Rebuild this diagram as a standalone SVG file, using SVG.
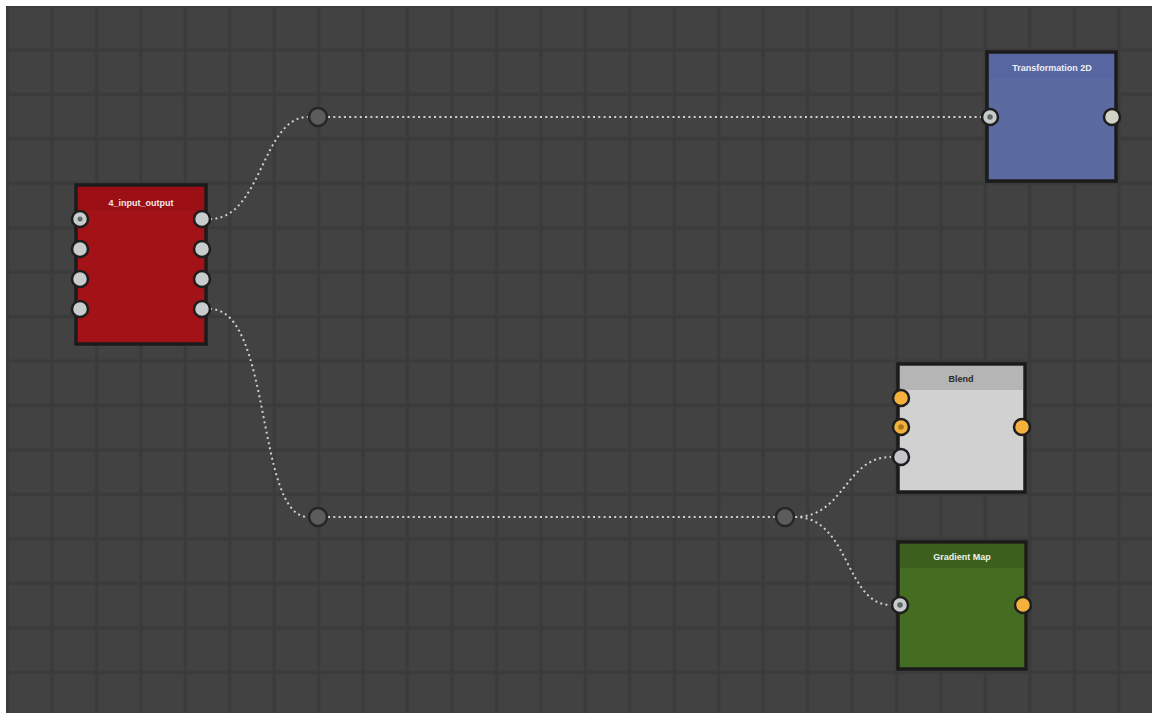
<svg xmlns="http://www.w3.org/2000/svg" width="1152" height="713" viewBox="0 0 1152 713">
<defs>
<pattern id="grid" patternUnits="userSpaceOnUse" x="29.8" y="27.8" width="44.45" height="44.45">
<rect width="44.45" height="44.45" fill="#424242"/>
<rect x="20.2" y="0" width="4" height="44.45" fill="#3d3d3d"/>
<rect x="0" y="20.2" width="44.45" height="4" fill="#3d3d3d"/>
<rect x="21.2" y="0" width="2" height="44.45" fill="#3a3a3a"/>
<rect x="0" y="21.2" width="44.45" height="2" fill="#3a3a3a"/>
</pattern>
<style>
.frame{stroke:#1b1b1b;stroke-width:3.5}
.title{font-family:"Liberation Sans",Arial,sans-serif;font-size:9px;font-weight:bold;text-anchor:middle}
.port{stroke:#1e1e1e;stroke-width:2.5}
.grey{fill:#c9cccc}
.orange{fill:#f4b23c}
.dot{fill:#5e6a66}
.odot{fill:#a8761c}
.wire{fill:none;stroke:#cfcfcf;stroke-width:2;stroke-dasharray:2 3.3;stroke-linecap:butt}
.reroute{fill:#5c5c5c;stroke:#262626;stroke-width:2.5}
</style>
</defs>
<rect width="1152" height="713" fill="#424242"/>
<rect width="1152" height="713" fill="url(#grid)"/>
<rect x="0" y="0" width="1152" height="6" fill="#ffffff"/>
<rect x="0" y="0" width="6" height="713" fill="#ffffff"/>

<g id="connectors">
<path class="wire" d="M210,219 C262,219 262,117 308,117"/>
<path class="wire" d="M328,117 L981,117"/>
<path class="wire" d="M210,309 C272,309 256,517 308,517"/>
<path class="wire" d="M328,517 L775,517"/>
<path class="wire" d="M795,517 C845,517 845,457 891,457"/>
<path class="wire" d="M795,517 C850,517 845,605 891,605"/>
</g>

<g id="reroute1"><circle class="reroute" cx="318" cy="117" r="9"/></g>
<g id="reroute2"><circle class="reroute" cx="318" cy="517" r="9"/></g>
<g id="reroute3"><circle class="reroute" cx="785" cy="517" r="9"/></g>

<g id="node-input-output">
<rect class="frame" x="76" y="185" width="130" height="159" fill="#a31217"/>
<rect x="78" y="187" width="126" height="24" fill="#9c1015"/>
<text class="title" x="141" y="206" fill="#f3e6e6">4_input_output</text>
<circle class="port grey" cx="80" cy="219" r="8"/><circle class="dot" cx="80" cy="219" r="2.5"/>
<circle class="port grey" cx="80" cy="249" r="8"/>
<circle class="port grey" cx="80" cy="279" r="8"/>
<circle class="port grey" cx="80" cy="309" r="8"/>
<circle class="port grey" cx="202" cy="219" r="8"/>
<circle class="port grey" cx="202" cy="249" r="8"/>
<circle class="port grey" cx="202" cy="279" r="8"/>
<circle class="port grey" cx="202" cy="309" r="8"/>
</g>

<g id="node-transformation">
<rect class="frame" x="987" y="52" width="129" height="129" fill="#5b6ba1"/>
<rect x="989" y="54" width="125" height="25" fill="#5766a0"/>
<text class="title" x="1052" y="71" fill="#eef0f6">Transformation 2D</text>
<circle class="port grey" cx="990" cy="117" r="8"/><circle class="dot" cx="990" cy="117" r="2.8" fill="#6b6b66"/>
<circle class="port" cx="1112" cy="117" r="8" fill="#d2d3c8"/>
</g>

<g id="node-blend">
<rect class="frame" x="898" y="364" width="127" height="128" fill="#d1d1d1"/>
<rect x="900" y="366" width="123" height="24" fill="#b5b5b5"/>
<text class="title" x="961" y="382" fill="#2a2a2a">Blend</text>
<circle class="port orange" cx="901" cy="398" r="8"/>
<circle class="port orange" cx="901" cy="427" r="8"/><circle class="odot" cx="901" cy="427" r="2.8"/>
<circle class="port" cx="901" cy="457" r="8" fill="#c6c6ca"/>
<circle class="port orange" cx="1022" cy="427" r="8"/>
</g>

<g id="node-gradient-map">
<rect class="frame" x="898" y="542" width="128" height="127" fill="#456d22"/>
<rect x="900" y="544" width="124" height="24" fill="#3c5f1d"/>
<text class="title" x="962" y="560" fill="#eef2e6">Gradient Map</text>
<circle class="port grey" cx="900" cy="605" r="8"/><circle class="dot" cx="900" cy="605" r="2.8" fill="#7a7a7a"/>
<circle class="port orange" cx="1023" cy="605" r="8"/>
</g>
</svg>
